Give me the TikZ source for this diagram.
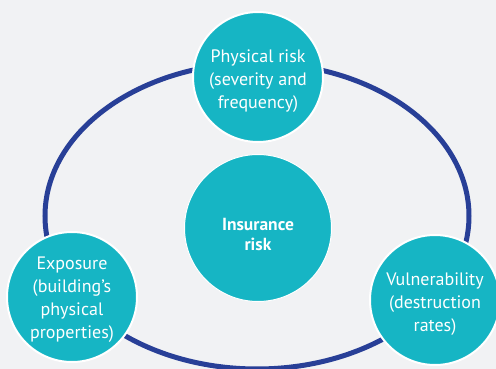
\documentclass[tikz,border=0pt]{standalone}
\usepackage{fontspec}
\setmainfont{PT Sans}
\definecolor{bg}{HTML}{F1F2F4}
\definecolor{ring}{HTML}{283F97}
\definecolor{tealc}{HTML}{16B5C4}
\tikzset{
  bubble/.style={circle, fill=tealc, draw=white, line width=2pt, minimum size=130pt, inner sep=0pt},
  hub/.style={circle, fill=tealc, draw=white, line width=1pt, minimum size=147pt, inner sep=0pt},
  btext/.style={text=white, align=center, inner sep=0pt, font=\fontsize{18}{23}\selectfont},
  htext/.style={text=white, align=center, inner sep=0pt, font=\bfseries\fontsize{17.5}{20}\selectfont}
}
\begin{document}
\begin{tikzpicture}[x=1pt,y=-1pt]
\useasboundingbox (0,0) rectangle (496,369);
\fill[bg] (0,0) rectangle (496,369);
\clip (0,0) rectangle (496,369);
\draw[ring, line width=5pt] (257,216) ellipse [x radius=212pt, y radius=153pt];
\node[hub] (hub) at (258,228) {};
\node[bubble] (phys) at (258,77) {};
\node[bubble] (expo) at (72,297) {};
\node[bubble] (vuln) at (435,300) {};
\node[htext] (hub-t) at ([yshift=-6pt]hub.center) {Insurance\\risk};
\node[btext] (phys-t) at ([yshift=-4pt]phys.center) {Physical risk\\(severity and\\frequency)};
\node[btext] (expo-t) at ([yshift=-3pt]expo.center) {Exposure\\(building’s\\physical\\properties)};
\node[btext] (vuln-t) at ([yshift=-4pt]vuln.center) {Vulnerability\\(destruction\\rates)};
\end{tikzpicture}
\end{document}
